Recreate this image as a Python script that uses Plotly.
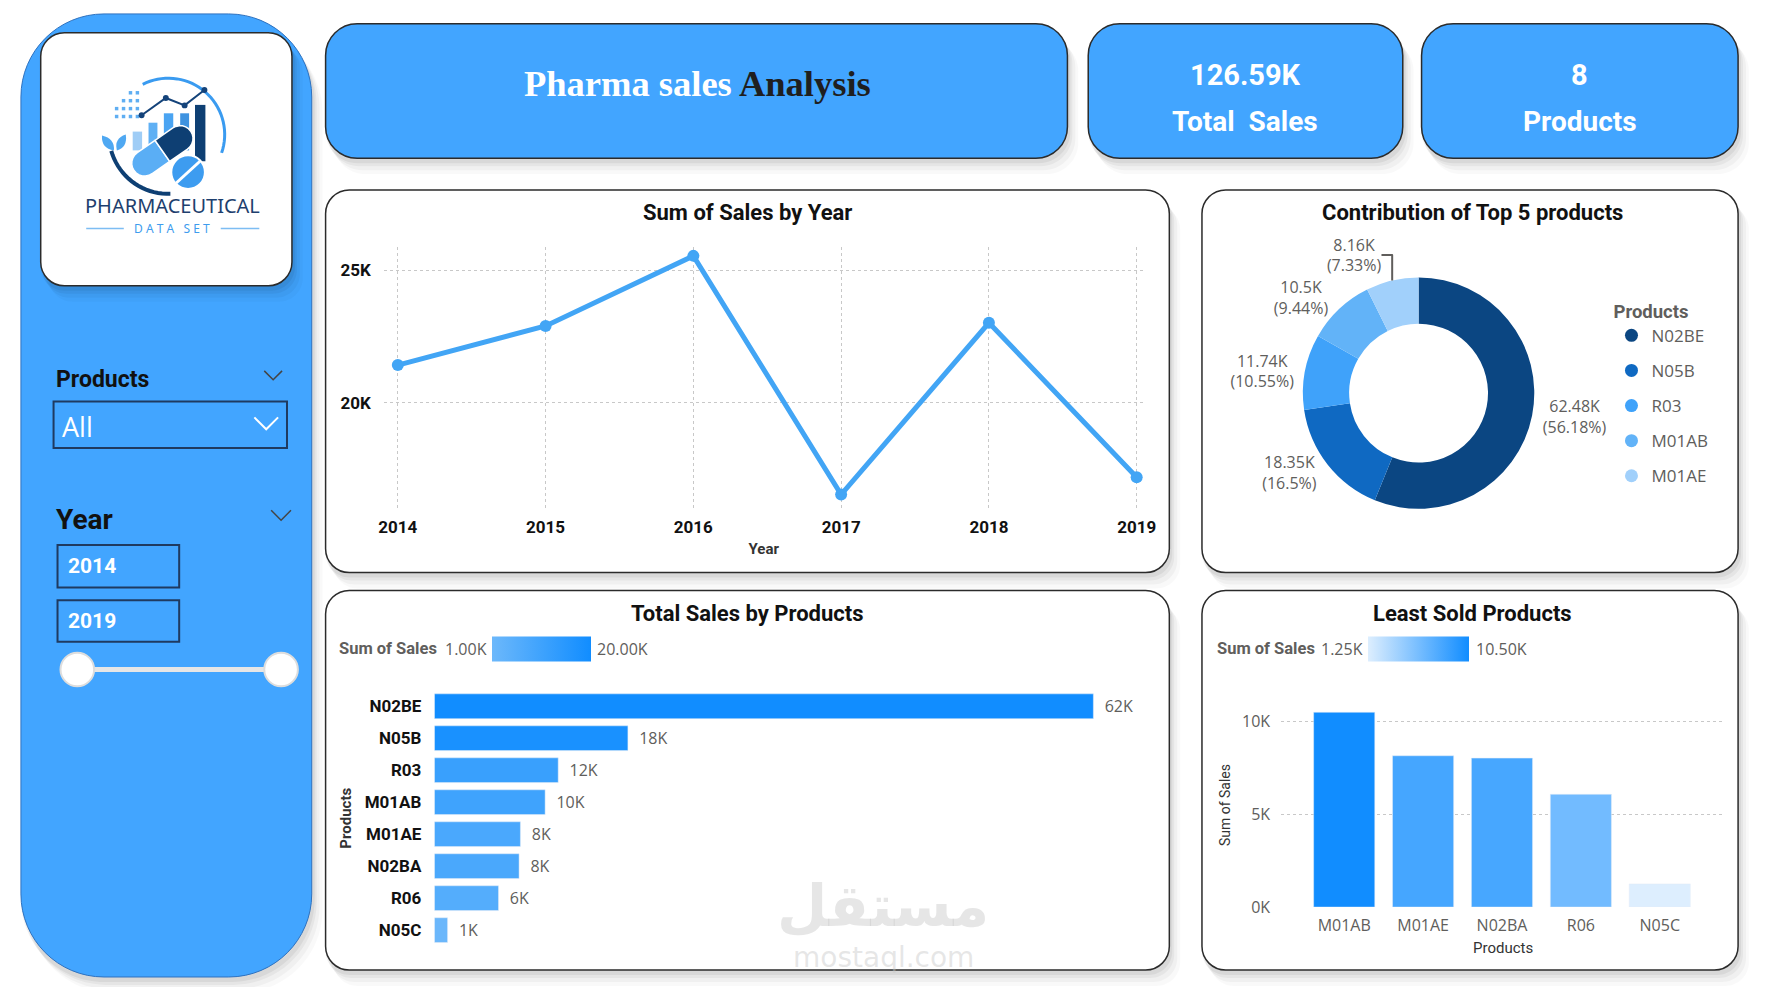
import math
import plotly.graph_objects as go

# browser window and the 8px page margin round the figure
WIN_W, WIN_H = 1767, 995
PAD = 8
W, H = WIN_W - 2 * PAD, WIN_H - 2 * PAD

# ---- data ----
years = [2014, 2015, 2016, 2017, 2018, 2019]
year_sales = [21420, 22900, 25550, 16520, 23020, 17180]
year_ticks = [20000, 25000]

products = ['N02BE', 'N05B', 'R03', 'M01AB', 'M01AE', 'N02BA', 'R06', 'N05C']
product_sales = [62484, 18350, 11740, 10500, 8156, 8030, 6080, 1250]
bar_scale = [1000, 20000]

top5_names = ['N02BE', 'N05B', 'R03', 'M01AB', 'M01AE']
top5_sales = [62484, 18350, 11740, 10500, 8156]
top5_colors = ['#0B4682', '#0F69C2', '#3FA2FA', '#62B3F8', '#A1D0FB']

least_names = ['M01AB', 'M01AE', 'N02BA', 'R06', 'N05C']
least_sales = [10500, 8156, 8030, 6080, 1250]
least_ticks = [0, 5000, 10000]

BLUE = '#42A5FF'
DIN = 'Roboto, sans-serif'
SEGOE = 'Open Sans, sans-serif'
GRAY = '#605E5C'


# window pixels -> paper coordinates
def X(px):
    return (px - PAD) / W


def Y(py):
    return 1 - (py - PAD) / H


def P(x, y):
    return f"{X(x):.5f},{Y(y):.5f}"


def kfmt(v, d=2):
    s = f"{v / 1000:.{d}f}"
    if d:
        s = s.rstrip('0').rstrip('.')
    return s + 'K'


def rrect(x0, y0, x1, y1, r):
    c = r * 0.4477
    return ("M" + P(x0 + r, y0) + " L" + P(x1 - r, y0) +
            " C" + P(x1 - c, y0) + " " + P(x1, y0 + c) + " " + P(x1, y0 + r) +
            " L" + P(x1, y1 - r) +
            " C" + P(x1, y1 - c) + " " + P(x1 - c, y1) + " " + P(x1 - r, y1) +
            " L" + P(x0 + r, y1) +
            " C" + P(x0 + c, y1) + " " + P(x0, y1 - c) + " " + P(x0, y1 - r) +
            " L" + P(x0, y0 + r) +
            " C" + P(x0, y0 + c) + " " + P(x0 + c, y0) + " " + P(x0 + r, y0) + " Z")


shapes = []
annotations = []


def add_path(path, fill=None, line=None, lw=0):
    shapes.append(dict(type='path', xref='paper', yref='paper', layer='below', path=path,
                       fillcolor=fill or 'rgba(0,0,0,0)',
                       line=dict(color=line or 'rgba(0,0,0,0)', width=lw)))


def card(x0, y0, x1, y1, r, fill, line='#2B2B2B', lw=1.5):
    for dx, dy, a in [(3, 5, 0.05), (5, 8, 0.045), (8, 12, 0.035), (11, 16, 0.025)]:
        add_path(rrect(x0 + dx - 3, y0 + dy, x1 + dx, y1 + dy, r), fill=f'rgba(0,0,0,{a})')
    add_path(rrect(x0, y0, x1, y1, r), fill=fill, line=line, lw=lw)


def txt(x, y, text, size, color='#111111', family=DIN, xanchor='center', angle=0):
    annotations.append(dict(x=X(x), y=Y(y), xref='paper', yref='paper', text=text, showarrow=False,
                            xanchor=xanchor, yanchor='middle', textangle=angle,
                            font=dict(size=size, color=color, family=family)))


def poly(pts, close=False):
    s = "M" + " L".join(P(x, y) for x, y in pts)
    return s + (" Z" if close else "")


def line(x0, y0, x1, y1, color, w):
    shapes.append(dict(type='line', xref='paper', yref='paper', layer='below',
                       x0=X(x0), y0=Y(y0), x1=X(x1), y1=Y(y1), line=dict(color=color, width=w)))


def circle(cx, cy, r, fill, line_c=None, lw=0):
    shapes.append(dict(type='circle', xref='paper', yref='paper', layer='below',
                       x0=X(cx - r), x1=X(cx + r), y0=Y(cy + r), y1=Y(cy - r), fillcolor=fill,
                       line=dict(color=line_c or 'rgba(0,0,0,0)', width=lw)))


# ---- sidebar ----
card(15, 14, 309, 988, 84, BLUE, line='#2F72BF', lw=1)
card(35, 33, 289, 289, 24, 'white')

# logo (simplified), drawn round (cx, cy)
cx, cy, R = 164, 136, 57
arc1 = [(cx + R * math.cos(math.radians(a)), cy - R * math.sin(math.radians(a))) for a in range(117, -23, -4)]
add_path(poly(arc1), line='#3A9BF0', lw=3)
arc2 = [(cx + 60 * math.cos(math.radians(a)), cy - 60 * math.sin(math.radians(a))) for a in range(196, 274, 4)]
add_path(poly(arc2), line='#0E3F73', lw=4)
ox = cx - 168
for (bx0, bx1, by0, c) in [(132, 141.5, 133, '#9FCDF6'), (148, 157, 124, '#5FB0F4'),
                           (163.5, 173, 114.5, '#4AA4F2'), (180, 189, 114.5, '#3F93E0')]:
    add_path(poly([(bx0 + ox, by0), (bx1 + ox, by0), (bx1 + ox, 152), (bx0 + ox, 152)], True), fill=c)
add_path(poly([(195 + ox, 106), (205.5 + ox, 106), (205.5 + ox, 163), (195 + ox, 163)], True), fill='#0E3F73')
for gx in range(4):
    for gy in range(4):
        if gx + gy >= 2:
            sx, sy = 114 + ox + gx * 7, 92 + gy * 8
            add_path(poly([(sx, sy), (sx + 3.5, sy), (sx + 3.5, sy + 3.5), (sx, sy + 3.5)], True), fill='#5FAEF2')
pts = [(141 + ox, 116.5), (165.5 + ox, 99), (184.5 + ox, 106.5), (204.5 + ox, 91)]
add_path(poly(pts), line='#14437A', lw=2)
for px_, py_ in pts:
    circle(px_, py_, 3, '#14437A')


def half_capsule(ax, ay, mx, my, hw):
    dx, dy = ax - mx, ay - my
    L = math.hypot(dx, dy)
    dx, dy = dx / L, dy / L
    nx, ny = -dy, dx
    out = [(mx + hw * nx, my + hw * ny)]
    for i in range(13):
        t = math.pi * i / 12
        out.append((ax + hw * (nx * math.cos(t) + dx * math.sin(t)),
                    ay + hw * (ny * math.cos(t) + dy * math.sin(t))))
    out.append((mx - hw * nx, my - hw * ny))
    return poly(out, True)


add_path(half_capsule(144 + ox, 165, 162 + ox, 152.5, 13), fill='#5AAEF5', line='white', lw=1.5)
add_path(half_capsule(180 + ox, 140, 162 + ox, 152.5, 13), fill='#0E3F73', line='white', lw=1.5)
circle(188 + ox, 174, 17, '#3D9CF0', 'white', 2)
line(176 + ox, 185, 200 + ox, 163, 'white', 3)
add_path("M" + P(113 + ox, 152) + " Q" + P(100 + ox, 150) + " " + P(101 + ox, 137) + " Q" + P(114 + ox, 140) +
         " " + P(113 + ox, 152) + " Z", fill='#4FA8F2')
add_path("M" + P(116 + ox, 152) + " Q" + P(113 + ox, 140) + " " + P(125 + ox, 136) + " Q" + P(127 + ox, 149) +
         " " + P(116 + ox, 152) + " Z", fill='#4FA8F2')
txt(168, 208, 'PHARMACEUTICAL', 20, '#1E3F6E', 'Noto Sans, sans-serif')
txt(168, 231, 'D A T A   S E T', 12, '#3E9CEE', 'Noto Sans, sans-serif')
line(81, 231, 119, 231, '#7DBDF3', 1.5)
line(217, 231, 256, 231, '#7DBDF3', 1.5)

# slicers
txt(48, 384, '<b>Products</b>', 23, '#111111', xanchor='left')
add_path(poly([(261, 375), (270, 384), (279, 375)]), line='#444444', lw=1.5)
add_path(poly([(48, 406), (284, 406), (284, 453), (48, 453)], True), fill=BLUE, line='#1F3A60', lw=2)
txt(54, 431, 'All', 27, 'white', SEGOE, xanchor='left')
add_path(poly([(251, 422), (263, 434), (275, 422)]), line='white', lw=2)
txt(48, 525, '<b>Year</b>', 28, '#111111', xanchor='left')
add_path(poly([(268, 516), (278, 526), (288, 516)]), line='#444444', lw=1.5)
for (y0, y1), yr in zip([(551, 594), (607, 649)], [years[0], years[-1]]):
    add_path(poly([(52, y0), (175, y0), (175, y1), (52, y1)], True), fill=BLUE, line='#1F3A60', lw=2)
    txt(61, (y0 + y1) / 2, f'<b>{yr}</b>', 21, 'white', xanchor='left')
line(72, 677, 278, 677, '#E6E6E6', 5)
circle(72, 677, 17, 'white', '#DDDDDD', 2)
circle(278, 677, 17, 'white', '#DDDDDD', 2)

# ---- header cards ----
card(323, 24, 1073, 160, 32, BLUE)
card(1094, 24, 1412, 160, 32, BLUE)
card(1431, 24, 1751, 160, 32, BLUE)
txt(699, 84, "<b>Pharma sales <span style='color:#1F1F1F'>Analysis</span></b>", 36.5, 'white',
    'Liberation Serif, serif')
txt(1253, 76, f'<b>{kfmt(sum(product_sales))}</b>', 29, 'white')
txt(1253, 123, '<b>Total\u00a0\u00a0Sales</b>', 28, 'white')
txt(1591, 76, f'<b>{len(products)}</b>', 29, 'white')
txt(1591, 123, '<b>Products</b>', 28, 'white')

# ---- chart cards ----
card(323, 192, 1176, 579, 24, 'white')
card(1209, 192, 1751, 579, 24, 'white')
card(323, 597, 1176, 981, 24, 'white')
card(1209, 597, 1751, 981, 24, 'white')
txt(750, 215, '<b>Sum of Sales by Year</b>', 22)
txt(1482, 215, '<b>Contribution of Top 5 products</b>', 22)
txt(750, 620, '<b>Total Sales by Products</b>', 22)
txt(1482, 620, '<b>Least Sold Products</b>', 22)

# colour legends of the two bar charts (gradient bars come from the colorbars)
txt(335, 656, '<b>Sum of Sales</b>', 16.5, GRAY, xanchor='left')
txt(488, 656, f'{bar_scale[0] / 1000:.2f}K', 16, GRAY, SEGOE, 'right')
txt(595, 656, f'{bar_scale[1] / 1000:.2f}K', 16, GRAY, SEGOE, 'left')
txt(1222, 656, '<b>Sum of Sales</b>', 16.5, GRAY, xanchor='left')
txt(1374, 656, f'{min(least_sales) / 1000:.2f}K', 16, GRAY, SEGOE, 'right')
txt(1484, 656, f'{max(least_sales) / 1000:.2f}K', 16, GRAY, SEGOE, 'left')

# watermark
txt(887, 916, '<b>مستقل</b>', 58, 'rgba(200,200,200,0.45)', 'DejaVu Sans, sans-serif')
txt(887, 968, 'mostaql.com', 28, 'rgba(200,200,200,0.45)', 'DejaVu Sans, sans-serif')

fig = go.Figure()

fig.add_trace(go.Scatter(x=years, y=year_sales, mode='lines+markers', xaxis='x', yaxis='y',
                         line=dict(color='#42A5F5', width=5), marker=dict(size=12, color='#42A5F5'),
                         showlegend=False))

fig.add_trace(go.Bar(x=product_sales, y=products, orientation='h', xaxis='x2', yaxis='y2',
                     marker=dict(color=product_sales, cmin=bar_scale[0], cmax=bar_scale[1],
                                 colorscale=[[0, '#6CB8FB'], [1, '#118DFF']], showscale=True,
                                 colorbar=dict(orientation='h', x=X(541), xanchor='center', y=Y(656),
                                               yanchor='middle', len=99, lenmode='pixels', thickness=25,
                                               outlinewidth=0, ticks='', showticklabels=False,
                                               xpad=0, ypad=0)),
                     text=[f'\u00a0\u00a0{round(v / 1000)}K' for v in product_sales], textposition='outside',
                     textfont=dict(family=SEGOE, size=16, color=GRAY), cliponaxis=False, showlegend=False))

fig.add_trace(go.Bar(x=least_names, y=least_sales, xaxis='x3', yaxis='y3',
                     marker=dict(color=least_sales, cmin=min(least_sales), cmax=max(least_sales),
                                 colorscale=[[0, '#DDEEFE'], [1, '#118DFF']], showscale=True,
                                 colorbar=dict(orientation='h', x=X(1428), xanchor='center', y=Y(656),
                                               yanchor='middle', len=101, lenmode='pixels', thickness=25,
                                               outlinewidth=0, ticks='', showticklabels=False,
                                               xpad=0, ypad=0)),
                     showlegend=False))

fig.add_trace(go.Pie(labels=top5_names, values=top5_sales, hole=0.6, sort=False, direction='clockwise',
                     rotation=0, marker=dict(colors=top5_colors, line=dict(width=0)),
                     text=[kfmt(v) for v in top5_sales], texttemplate='%{text}<br>(%{percent:.2~%})',
                     textposition='outside', outsidetextfont=dict(family=SEGOE, size=16, color=GRAY),
                     domain=dict(x=[X(1428 - 117), X(1428 + 117)], y=[Y(397.5 + 117), Y(397.5 - 117)]),
                     showlegend=False))

for name, col in zip(top5_names, top5_colors):
    fig.add_trace(go.Scatter(x=[None], y=[None], mode='markers', name=name, legendgroup=name,
                             marker=dict(size=13, color=col, symbol='circle'), xaxis='x', yaxis='y'))

grid = dict(showgrid=True, gridcolor='#C8C8C8', griddash='dot', gridwidth=1, zeroline=False, showline=False,
            ticks='')

fig.update_layout(
    width=W, height=H, margin=dict(l=0, r=0, t=0, b=0),
    paper_bgcolor='white', plot_bgcolor='rgba(0,0,0,0)',
    shapes=shapes, annotations=annotations, bargap=0.225,
    xaxis=dict(domain=[X(382), X(1150)], range=[2013.906, 2019.047], tickvals=years, anchor='y',
               tickfont=dict(family=DIN, size=17, color='#111111', weight='bold'), ticklabelstandoff=5,
               title=dict(text='<b>Year</b>', font=dict(family=DIN, size=15, color='#333333'), standoff=7),
               **grid),
    yaxis=dict(domain=[Y(516), Y(250)], range=[15927, 25875], tickvals=year_ticks, anchor='x',
               ticktext=[kfmt(v, 0) for v in year_ticks], ticklabelstandoff=12,
               tickfont=dict(family=DIN, size=17, color='#111111', weight='bold'), **grid),
    xaxis2=dict(domain=[X(433), X(1165)], range=[0, 68655], anchor='y2', visible=False),
    yaxis2=dict(domain=[Y(956.8), Y(698)], autorange='reversed', anchor='x2', showgrid=False, zeroline=False,
                ticks='', ticklabelstandoff=12,
                tickfont=dict(family=DIN, size=17, color='#111111', weight='bold'),
                title=dict(text='<b>Products</b>', font=dict(family=DIN, size=15, color='#333333'), standoff=9)),
    xaxis3=dict(domain=[X(1289), X(1738)], range=[-0.8, 4.83], anchor='y3', type='category', showgrid=False,
                zeroline=False, ticks='', ticklabelstandoff=7, tickfont=dict(family=SEGOE, size=16, color=GRAY),
                title=dict(text='Products', font=dict(family=DIN, size=15, color='#333333'), standoff=7)),
    yaxis3=dict(domain=[Y(917.3), Y(710.9)], range=[0, 11000], anchor='x3', tickvals=least_ticks,
                ticktext=[kfmt(v, 0) for v in least_ticks], ticklabelstandoff=10,
                tickfont=dict(family=SEGOE, size=16, color=GRAY),
                title=dict(text='Sum of Sales', font=dict(family=DIN, size=14, color='#333333'), standoff=8),
                **grid),
    showlegend=True,
    legend=dict(x=X(1623), y=Y(297), xanchor='left', yanchor='top', tracegroupgap=10, itemwidth=30,
                bgcolor='rgba(0,0,0,0)',
                title=dict(text='<b>Products</b>', font=dict(family=DIN, size=18.5, color=GRAY)),
                font=dict(family=SEGOE, size=17, color=GRAY)),
)

fig.write_html("out.html", config={'displayModeBar': False})
